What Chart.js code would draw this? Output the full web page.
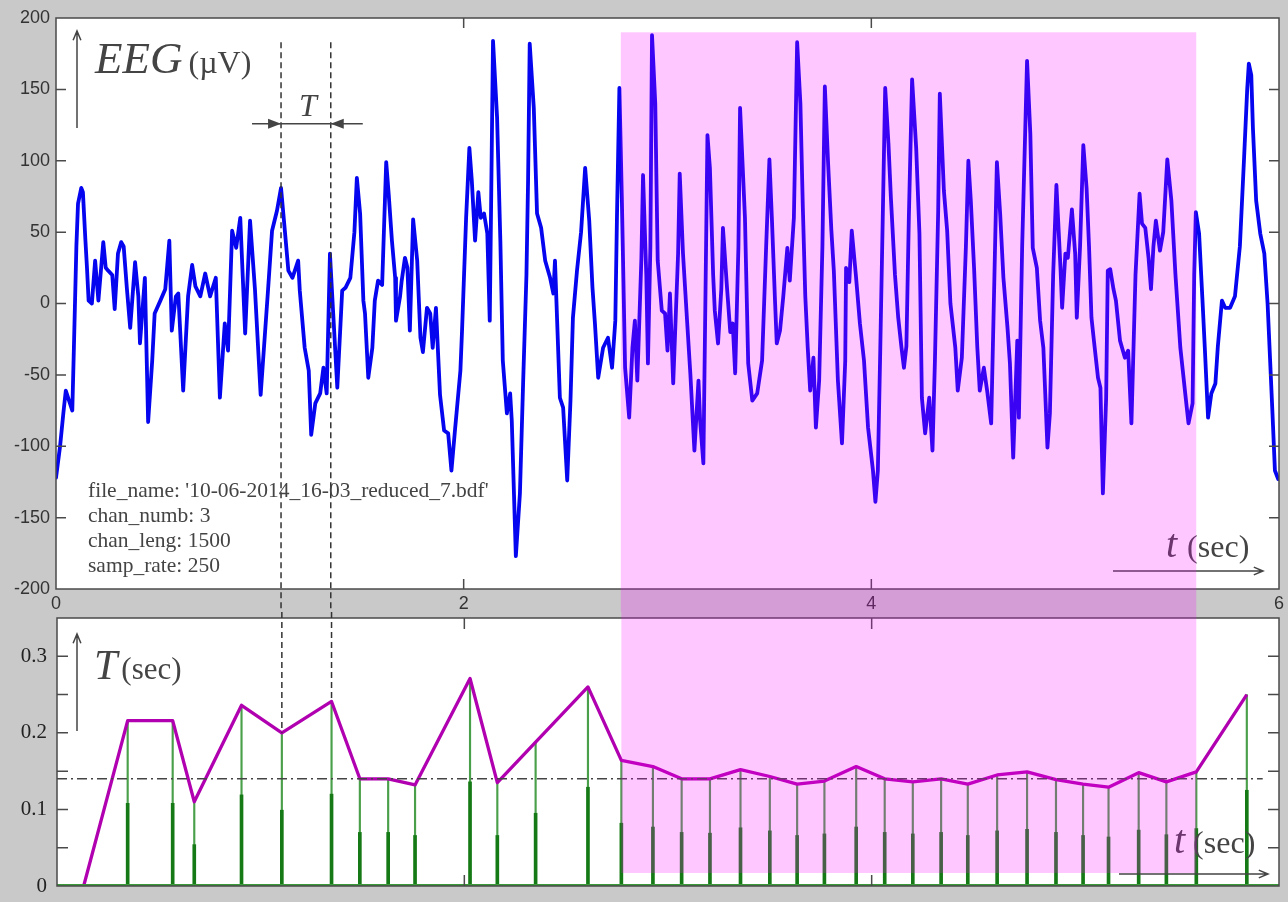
<!DOCTYPE html>
<html>
<head>
<meta charset="utf-8">
<title>EEG and peak period</title>
<script src="https://cdn.jsdelivr.net/npm/chart.js@4.4.1/dist/chart.umd.min.js"></script>
<style>
  html, body { margin: 0; padding: 0; background: #c9c9c9; }
  #wrap { position: relative; width: 1288px; height: 902px; overflow: hidden; }
  canvas { position: absolute; left: 0; }
  #eegChart { top: 0; }
  #periodChart { top: 612px; }
</style>
</head>
<body>
<div id="wrap">
  <canvas id="eegChart" width="1288" height="612"></canvas>
  <canvas id="periodChart" width="1288" height="290"></canvas>
</div>
<script>
// EEG channel (sample index at 250 Hz, value in µV)
const sampRate = 250;
const eegSample = [
  0,5,9,12,16,20,22,25,27,31,33,36,38,40,44,48,52,58,61,64,
  69,72,76,80,83,87,91,97,101,103,109,113,118,121,128,134,139,142,147,150,
  156,162,167,171,177,183,189,196,201,207,211,216,221,226,232,238,244,251,260,265,
  271,276,281,285,290,297,299,305,310,313,318,324,328,332,336,340,345,351,355,361,
  366,369,373,377,379,383,388,391,395,400,405,408,412,416,417,422,424,428,431,434,
  438,443,447,450,455,459,462,466,471,476,481,485,489,496,498,503,507,510,514,518,
  521,525,529,532,536,541,545,548,553,557,559,564,569,573,577,579,581,586,590,595,
  600,606,610,612,618,622,627,631,634,639,644,649,654,658,661,665,671,677,682,686,
  688,691,694,698,703,707,710,713,718,720,724,726,729,731,735,738,743,747,750,753,
  757,763,765,769,774,778,783,788,790,794,799,802,806,808,812,816,818,823,827,830,
  833,837,839,845,849,854,860,866,871,875,878,882,884,888,892,897,900,905,909,913,
  916,919,922,925,929,932,936,940,943,947,951,954,959,964,968,969,973,976,981,986,
  991,996,1002,1005,1008,1011,1014,1017,1021,1024,1029,1033,1037,1040,1043,1046,1050,1055,1059,1062,
  1066,1071,1075,1078,1082,1084,1089,1093,1097,1103,1106,1111,1116,1119,1122,1126,1130,1133,1138,1142,
  1147,1151,1154,1158,1162,1167,1170,1174,1179,1181,1185,1191,1195,1198,1203,1207,1211,1216,1219,1223,
  1227,1232,1234,1238,1241,1246,1250,1252,1256,1260,1264,1267,1270,1273,1278,1281,1284,1288,1290,1293,
  1297,1300,1305,1311,1315,1319,1324,1329,1332,1336,1340,1343,1346,1349,1354,1358,1363,1368,1373,1379,
  1385,1389,1394,1396,1398,1402,1406,1409,1413,1417,1422,1425,1430,1434,1440,1446,1452,1457,1461,1463,
  1466,1468,1472,1477,1482,1486,1492,1495,1499
];
const eegValue = [
  -122,-100,-77,-61,-68,-75,-30,40,70,81,78,45,25,2,0,30,2,43,25,23,
  20,-4,35,43,40,10,-17,29,5,-28,18,-83,-40,-7,2,10,44,-19,5,7,
  -61,5,27,12,5,21,5,18,-66,-14,-33,51,39,60,-21,58,10,-64,9,51,
  65,81,49,23,18,30,9,-31,-47,-92,-70,-63,-45,-63,35,-7,-59,9,11,18,
  50,88,63,2,-7,-52,-31,2,16,13,99,77,44,18,-12,5,16,32,25,-19,
  59,30,-24,-34,-3,-7,-31,-3,-64,-89,-91,-117,-91,-47,-19,60,109,86,44,78,
  60,63,49,-12,184,130,44,-40,-77,-63,-82,-177,-133,-54,20,86,182,137,63,53,
  30,18,7,30,-66,-73,-124,-68,-10,23,50,95,58,11,-14,-52,-31,-24,-45,-12,
  60,151,74,-45,-80,-31,-12,-54,32,90,20,-42,40,188,140,30,-5,-7,-33,7,
  -56,35,91,35,-12,-49,-103,-54,-82,-112,118,95,20,-5,-28,10,53,11,-20,-14,
  -49,40,137,60,-42,-68,-63,-40,40,101,60,0,-28,-19,5,39,16,60,183,140,
  67,5,-31,-61,-38,-87,-54,40,152,98,51,23,-54,-98,-40,25,15,51,20,-14,
  -40,-87,-117,-139,-117,-31,60,151,112,74,20,-10,-31,-45,-30,60,157,109,49,-66,
  -91,-66,-103,-40,65,147,79,51,0,-31,-61,-38,40,100,72,25,-31,-61,-45,-61,
  -84,20,99,63,18,-17,-42,-108,-26,-80,40,170,119,39,25,-12,-31,-101,-77,20,
  83,25,-3,35,32,66,35,-10,40,111,81,40,-10,-26,-52,-59,-133,-66,23,24,
  10,2,-26,-38,-33,-84,20,77,56,53,32,10,40,58,37,50,101,72,20,-31,
  -63,-84,-70,20,64,49,4,-31,-80,-63,-56,-30,2,-3,-3,5,40,100,150,168,
  160,123,72,49,35,0,-77,-117,-123
];

// peak times (sec), period T between peaks (sec), peak marker level
const periodTime = [0.131, 0.347, 0.568, 0.674, 0.906, 1.104, 1.348, 1.487, 1.626, 1.758,
  2.028, 2.162, 2.350, 2.607, 2.771, 2.926, 3.067, 3.206, 3.356, 3.500,
  3.634, 3.768, 3.924, 4.064, 4.202, 4.341, 4.472, 4.616, 4.763, 4.905,
  5.038, 5.163, 5.311, 5.447, 5.594, 5.842];
const periodValue = [0, 0.216, 0.216, 0.110, 0.236, 0.200, 0.241, 0.140, 0.140, 0.132,
  0.271, 0.135, 0.188, 0.260, 0.164, 0.156, 0.140, 0.140, 0.152, 0.143,
  0.133, 0.137, 0.156, 0.140, 0.136, 0.140, 0.133, 0.145, 0.149, 0.139,
  0.133, 0.129, 0.148, 0.136, 0.149, 0.250];
const peakLevel = [0, 0.108, 0.108, 0.054, 0.119, 0.099, 0.120, 0.070, 0.070, 0.066,
  0.136, 0.066, 0.095, 0.129, 0.082, 0.077, 0.070, 0.069, 0.076, 0.072,
  0.066, 0.068, 0.077, 0.070, 0.068, 0.070, 0.066, 0.072, 0.074, 0.070,
  0.066, 0.064, 0.073, 0.067, 0.075, 0.125];
const meanPeriod = 0.14;
const meanLineEnd = 5.92;

// axis ticks
const timeTicks = [0, 2, 4, 6];
const eegTicks = [-200, -150, -100, -50, 0, 50, 100, 150, 200];
const periodTicks = [0, 0.1, 0.2, 0.3];
const periodMinorTicks = [0.05, 0.1, 0.15, 0.2, 0.25, 0.3];

const infoLines = ["file_name: '10-06-2014_16-03_reduced_7.bdf'", 'chan_numb: 3', 'chan_leng: 1500', 'samp_rate: 250'];

// highlighted stretch, example period T
const hlStart = periodTime[14], hlEnd = periodTime[34];
const hlTopEEG = 190, hlBottomT = 0.017;
const markA = periodTime[5], markB = periodTime[6];
const pink = 'rgba(255, 0, 255, 0.22)';
const ink = '#444';
const serif = '"Liberation Serif", "Times New Roman", serif';

function whiteArea(chart) {
  const a = chart.chartArea;
  chart.ctx.save();
  chart.ctx.fillStyle = '#fff';
  chart.ctx.fillRect(a.left, a.top, a.right - a.left, a.bottom - a.top);
  chart.ctx.restore();
}

// box with ticks pointing inward, like the matlab axes
function drawFrame(chart, xVals, yVals, len) {
  const {ctx, chartArea: a, scales: {x, y}} = chart;
  ctx.save();
  ctx.strokeStyle = '#4a4a4a';
  ctx.lineWidth = 1.5;
  ctx.strokeRect(a.left, a.top, a.right - a.left, a.bottom - a.top);
  ctx.beginPath();
  xVals.forEach(v => {
    const px = x.getPixelForValue(v);
    ctx.moveTo(px, a.bottom); ctx.lineTo(px, a.bottom - len);
    ctx.moveTo(px, a.top); ctx.lineTo(px, a.top + len);
  });
  yVals.forEach(v => {
    const py = y.getPixelForValue(v);
    ctx.moveTo(a.left, py); ctx.lineTo(a.left + len, py);
    ctx.moveTo(a.right, py); ctx.lineTo(a.right - len, py);
  });
  ctx.stroke();
  ctx.restore();
}

function openArrow(ctx, x1, y1, x2, y2) {
  const ang = Math.atan2(y2 - y1, x2 - x1);
  ctx.beginPath();
  ctx.moveTo(x1, y1); ctx.lineTo(x2, y2);
  ctx.moveTo(x2 - 10 * Math.cos(ang - 0.4), y2 - 10 * Math.sin(ang - 0.4));
  ctx.lineTo(x2, y2);
  ctx.lineTo(x2 - 10 * Math.cos(ang + 0.4), y2 - 10 * Math.sin(ang + 0.4));
  ctx.stroke();
}

function solidHead(ctx, tipX, y, dir) {
  ctx.beginPath();
  ctx.moveTo(tipX, y);
  ctx.lineTo(tipX - dir * 13, y - 5);
  ctx.lineTo(tipX - dir * 13, y + 5);
  ctx.closePath();
  ctx.fill();
}

// italic symbol followed by unit in brackets
function axisName(ctx, sym, symSize, unit, unitSize, x, base, gap) {
  ctx.font = 'italic ' + symSize + 'px ' + serif;
  ctx.fillText(sym, x, base);
  const w = ctx.measureText(sym).width;
  ctx.font = unitSize + 'px ' + serif;
  ctx.fillText(unit, x + w + gap, base);
}

function dashedMarks(chart, fromY, toValues) {
  const {ctx, scales: {x}} = chart;
  ctx.save();
  ctx.strokeStyle = '#333';
  ctx.lineWidth = 1.5;
  ctx.setLineDash([6, 4]);
  [markA, markB].forEach((t, i) => {
    const px = x.getPixelForValue(t);
    ctx.beginPath();
    ctx.moveTo(px, fromY);
    ctx.lineTo(px, toValues[i]);
    ctx.stroke();
  });
  ctx.restore();
}

function pinkBand(chart, y1, y2) {
  const {ctx, scales: {x}} = chart;
  const x1 = x.getPixelForValue(hlStart), x2 = x.getPixelForValue(hlEnd);
  ctx.save();
  ctx.fillStyle = pink;
  ctx.fillRect(x1, y1, x2 - x1, y2 - y1);
  ctx.restore();
}

// stop edge labels from pushing the plot box around
function noEdgePadding(s) {
  s.paddingTop = 0; s.paddingBottom = 0; s.paddingLeft = 0; s.paddingRight = 0;
}

const eegDecor = {
  id: 'eegDecor',
  beforeDraw: whiteArea,
  afterDatasetsDraw(chart) {
    const {ctx, chartArea: a, scales: {x, y}} = chart;
    drawFrame(chart, timeTicks.filter(v => v > 0 && v < 6), eegTicks.filter(v => Math.abs(v) < 200), 10);
    dashedMarks(chart, y.getPixelForValue(183), [chart.height, chart.height]);

    ctx.save();
    ctx.strokeStyle = ink; ctx.fillStyle = ink; ctx.lineWidth = 1.5;
    // T between the two peaks
    const ay = y.getPixelForValue(126);
    const pa = x.getPixelForValue(markA), pb = x.getPixelForValue(markB);
    ctx.beginPath();
    ctx.moveTo(pa - 29, ay); ctx.lineTo(pb + 32, ay);
    ctx.stroke();
    solidHead(ctx, pa, ay, 1);
    solidHead(ctx, pb, ay, -1);
    ctx.font = 'italic 32px ' + serif;
    ctx.fillText('T', pa + 18, ay - 8);

    // axis names
    openArrow(ctx, a.left + 21, a.top + 110, a.left + 21, a.top + 13);
    axisName(ctx, 'EEG', 45, '(µV)', 32, a.left + 39, a.top + 55, 6);
    openArrow(ctx, 1113, 571, 1263, 571);
    axisName(ctx, 't', 40, '(sec)', 32, 1166, 557, 10);

    ctx.font = '21.5px ' + serif;
    infoLines.forEach((s, i) => ctx.fillText(s, a.left + 32, 497 + i * 25));
    ctx.restore();
  },
  afterDraw(chart) {
    pinkBand(chart, chart.scales.y.getPixelForValue(hlTopEEG), chart.height);
  }
};

const periodDecor = {
  id: 'periodDecor',
  beforeDraw: whiteArea,
  afterDatasetsDraw(chart) {
    const {ctx, chartArea: a, scales: {x, y}} = chart;
    // stem baseline
    ctx.save();
    ctx.strokeStyle = '#3a9a3a'; ctx.lineWidth = 2;
    ctx.beginPath();
    ctx.moveTo(a.left, y.getPixelForValue(0) - 1); ctx.lineTo(a.right, y.getPixelForValue(0) - 1);
    ctx.stroke();
    // mean period, dash-dot
    ctx.strokeStyle = ink; ctx.lineWidth = 1.5;
    ctx.setLineDash([10, 4, 2, 4]);
    ctx.beginPath();
    ctx.moveTo(a.left, y.getPixelForValue(meanPeriod));
    ctx.lineTo(x.getPixelForValue(meanLineEnd), y.getPixelForValue(meanPeriod));
    ctx.stroke();
    ctx.restore();

    drawFrame(chart, timeTicks.filter(v => v > 0 && v < 6), periodMinorTicks, 11);
    dashedMarks(chart, 0, [y.getPixelForValue(periodValue[5]), y.getPixelForValue(periodValue[6])]);

    ctx.save();
    ctx.strokeStyle = ink; ctx.fillStyle = ink; ctx.lineWidth = 1.5;
    openArrow(ctx, a.left + 20, a.top + 113, a.left + 20, a.top + 16);
    axisName(ctx, 'T', 42, '(sec)', 31, a.left + 37, a.top + 61, 4);
    openArrow(ctx, 1119, 262, 1268, 262);
    axisName(ctx, 't', 40, '(sec)', 32, 1174, 241, 8);
    ctx.restore();
  },
  afterDraw(chart) {
    pinkBand(chart, 0, chart.scales.y.getPixelForValue(hlBottomT));
  }
};

const baseOptions = {
  responsive: false,
  maintainAspectRatio: false,
  animation: false,
  events: [],
  plugins: { legend: { display: false }, tooltip: { enabled: false } }
};

new Chart(document.getElementById('eegChart'), {
  type: 'line',
  data: {
    datasets: [{
      data: eegSample.map((n, i) => ({ x: n / sampRate, y: eegValue[i] })),
      borderColor: '#0505f0',
      borderWidth: 3.8,
      borderJoinStyle: 'round',
      borderCapStyle: 'round',
      pointRadius: 0,
      tension: 0
    }]
  },
  options: Object.assign({}, baseOptions, {
    layout: { padding: { top: 18, right: 9, left: 0, bottom: 0 } },
    scales: {
      x: {
        type: 'linear', min: 0, max: 6,
        afterBuildTicks: s => { s.ticks = timeTicks.map(v => ({ value: v })); },
        afterFit: s => { s.height = 23; noEdgePadding(s); },
        grid: { display: false, drawTicks: false },
        border: { display: false },
        ticks: { color: '#333', padding: 4, autoSkip: false, maxRotation: 0,
          font: { family: 'Liberation Sans', size: 18 }, callback: v => String(v) }
      },
      y: {
        type: 'linear', min: -200, max: 200,
        afterBuildTicks: s => { s.ticks = eegTicks.map(v => ({ value: v })); },
        afterFit: s => { s.width = 56; noEdgePadding(s); },
        grid: { display: false, drawTicks: false },
        border: { display: false },
        ticks: { color: '#333', padding: 6, autoSkip: false,
          font: { family: 'Liberation Sans', size: 18 }, callback: v => String(v) }
      }
    }
  }),
  plugins: [eegDecor]
});

new Chart(document.getElementById('periodChart'), {
  type: 'line',
  data: {
    datasets: [
      {
        data: periodTime.map((t, i) => ({ x: t, y: periodValue[i] })),
        borderColor: '#b000b0',
        borderWidth: 3.3,
        borderJoinStyle: 'round',
        pointRadius: 0,
        tension: 0,
        order: 0
      },
      {
        type: 'bar',
        data: periodTime.map((t, i) => ({ x: t, y: peakLevel[i] })),
        backgroundColor: '#157a15',
        barThickness: 3,
        grouped: false,
        order: 1
      },
      {
        type: 'bar',
        data: periodTime.map((t, i) => ({ x: t, y: periodValue[i] })),
        backgroundColor: '#4aa04a',
        barThickness: 1.5,
        grouped: false,
        order: 2
      }
    ]
  },
  options: Object.assign({}, baseOptions, {
    layout: { padding: { top: 6, right: 9, left: 0, bottom: 0 } },
    scales: {
      x: {
        type: 'linear', min: 0, max: 6, offset: false,
        afterBuildTicks: s => { s.ticks = timeTicks.map(v => ({ value: v })); },
        afterFit: s => { s.height = 16; noEdgePadding(s); },
        grid: { display: false, drawTicks: false },
        border: { display: false },
        ticks: { display: false }
      },
      y: {
        type: 'linear', min: 0, max: 0.35,
        afterBuildTicks: s => { s.ticks = periodTicks.map(v => ({ value: v })); },
        afterFit: s => { s.width = 57; noEdgePadding(s); },
        grid: { display: false, drawTicks: false },
        border: { display: false },
        ticks: { color: '#222', padding: 10, autoSkip: false,
          font: { family: 'Liberation Serif', size: 21 },
          callback: v => (v === 0 ? '0' : v.toFixed(1)) }
      }
    }
  }),
  plugins: [periodDecor]
});
</script>
</body>
</html>
